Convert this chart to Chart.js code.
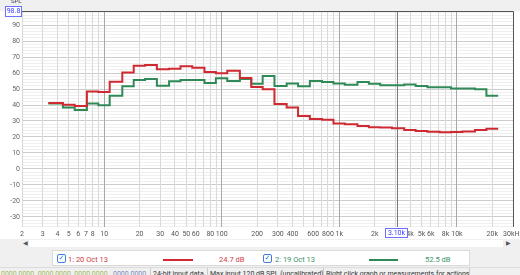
<!DOCTYPE html>
<html><head><meta charset="utf-8">
<script src="https://cdn.jsdelivr.net/npm/chart.js@4.4.1/dist/chart.umd.min.js"></script>
<style>
html,body{margin:0;padding:0;width:520px;height:275px;overflow:hidden;background:#fff;font-family:Roboto,"Noto Sans",sans-serif;}
#wrap{position:relative;width:520px;height:275px;overflow:hidden;}
canvas{position:absolute;left:0;top:0;}
.a{position:absolute;white-space:nowrap;}
.cb{position:absolute;width:7px;height:7px;border:1px solid #3d7fe0;border-radius:2px;background:#fff;font:bold 7px "DejaVu Sans",sans-serif;color:#2a6fd6;line-height:7px;text-align:center;}
.t{font-size:7px;line-height:8px;}
.s{font-size:7.5px;line-height:9px;}
.st{font-size:7px;line-height:9px;}
</style></head><body>
<div id="wrap">
<canvas id="c" width="520" height="275"></canvas>
<div class="a" style="left:0;top:0;width:520px;height:11px;background:#f0f0f0;"></div>
<div class="a t" style="left:11px;top:-3px;color:#444;font-size:6px;">SPL</div>
<div class="a t" style="left:5px;top:6px;width:15px;height:9px;border:1px solid #6f6fff;background:#fff;color:#3a3aff;text-align:center;line-height:9px;">98.8</div>
<div class="a" style="left:0;top:239px;width:520px;height:36px;background:#f0f0f0;"></div>
<div class="a" style="left:29px;top:240px;width:474px;height:7px;background:#fff;"></div>
<div class="a t" style="left:23px;top:239px;color:#555;font-size:6px;">&#9664;</div>
<div class="a t" style="left:506px;top:239px;color:#555;font-size:6px;">&#9654;</div>
<div class="a" style="left:52px;top:250px;width:416px;height:14px;background:#fff;border:1px solid #dadada;"></div>
<div class="cb" style="left:57px;top:254px;">&#10003;</div>
<div class="a s" style="left:68px;top:255px;color:#d23a48;">1: 20 Oct 13</div>
<div class="a" style="left:163px;top:259px;width:30px;height:2px;background:#cf2a32;"></div>
<div class="a s" style="left:219px;top:255px;color:#d23a48;">24.7 dB</div>
<div class="cb" style="left:263px;top:254px;">&#10003;</div>
<div class="a s" style="left:275px;top:255px;color:#3a9466;">2: 19 Oct 13</div>
<div class="a" style="left:369px;top:259px;width:29px;height:2px;background:#2f8a57;"></div>
<div class="a s" style="left:425px;top:255px;color:#3a9466;">52.5 dB</div>
<div class="a" style="left:0;top:267px;width:520px;height:1px;background:#dcdcdc;"></div>
<div class="a st" style="left:1px;top:270px;color:#9bbb55;">0000 0000&nbsp; 0000 0000&nbsp; 0000 0000</div>
<div class="a st" style="left:113px;top:270px;color:#7a88b8;">0000 0000</div>
<div class="a" style="left:150px;top:268px;width:1px;height:7px;background:#ccc;"></div>
<div class="a st" style="left:153px;top:270px;color:#333;">24-bit input data</div>
<div class="a" style="left:207px;top:268px;width:1px;height:7px;background:#ccc;"></div>
<div class="a st" style="left:210px;top:270px;color:#333;">Max input 120 dB SPL (uncalibrated)</div>
<div class="a" style="left:323px;top:268px;width:1px;height:7px;background:#ccc;"></div>
<div class="a st" style="left:326px;top:270px;color:#333;">Right click graph or measurements for actions</div>
<div class="a" style="left:469px;top:268px;width:1px;height:7px;background:#ccc;"></div>
</div>
<script>
// 1/3-octave band centres (Hz)
const bandCenters = [4,5,6.3,8,10,12.5,16,20,25,31.5,40,50,63,80,100,125,160,200,250,315,400,500,630,800,1000,1250,1600,2000,2500,3150,4000,5000,6300,8000,10000,12500,16000,20000];
const startHz = 3.35;
// 1: 20 Oct 13 (dB SPL)
const red = [41.2,40.2,39.4,48.5,48.1,54.6,60.4,64.6,65.0,62.3,62.7,64.2,63.3,60.6,59.8,61.4,56.9,51.2,49.8,40.6,38.5,33.1,31.2,30.8,28.5,27.9,26.9,26.1,25.9,25.4,24.4,23.8,23.3,22.9,23.1,23.5,24.4,25.2];
// 2: 19 Oct 13 (dB SPL)
const green = [41.0,38.5,36.9,41.0,39.8,45.8,51.7,55.6,56.3,52.1,54.8,55.6,55.6,53.8,56.7,55.0,56.3,53.3,58.1,51.9,53.5,51.7,55.0,54.4,53.5,52.7,54.4,53.3,52.3,52.3,52.9,51.9,51.1,51.1,50.4,50.4,49.8,45.8];
const xTickValues = [2,3,4,5,6,7,8,10,20,30,40,50,60,80,100,200,300,400,600,800,1000,2000,4000,5000,6000,8000,10000,20000,30000];
const xTickLabels = ['2','3','4','5','6','7','8','10','20','30','40','50','60','80','100','200','300','400','600','800','1k','2k','4k','5k','6k','8k','10k','20k','30kHz'];
const yTickValues = [90,80,70,60,50,40,30,20,10,0,-10,-20,-30];
const cursorHz = 3100, cursorLabel = '3.10k';

const RED = '#cf2a32', GREEN = '#2f8a57';
function toSteps(vals){
  const pts = vals.map((v,i)=>({x: i===0 ? startHz : bandCenters[i]*Math.pow(10,-0.05), y: v}));
  pts.push({x: bandCenters[bandCenters.length-1]*Math.pow(10,0.05), y: vals[vals.length-1]});
  return pts;
}
const xGrid = [];
for (let e=0;e<=4;e++) for (let m=1;m<=9;m++){ const v=m*Math.pow(10,e); if(v>=2&&v<=30000) xGrid.push(v); }
const yGrid = [];
for (let v=-36; v<=98; v+=2) yGrid.push(v);
const labelMap = {}; xTickValues.forEach((v,i)=>labelMap[v]=xTickLabels[i]);
const isDecade = v => [10,100,1000,10000].includes(v);
const FONT = {family:'Roboto, "Noto Sans", sans-serif', size:7};

const deco = {
  id:'deco',
  beforeDraw(c){ const g=c.ctx; g.save(); g.fillStyle='#fff'; g.fillRect(0,0,c.width,c.height); g.restore(); },
  beforeDatasetsDraw(c){
    const g=c.ctx, a=c.chartArea, xs=c.scales.x;
    const x = Math.round(xs.getPixelForValue(cursorHz))+0.5;
    g.save(); g.strokeStyle='#7a7a7a'; g.lineWidth=1;
    g.beginPath(); g.moveTo(x,a.top); g.lineTo(x,a.bottom); g.stroke(); g.restore();
  },
  afterDraw(c){
    const g=c.ctx, a=c.chartArea, xs=c.scales.x;
    g.save(); g.strokeStyle='#555'; g.lineWidth=1;
    g.beginPath(); g.moveTo(21,a.top+0.5); g.lineTo(a.right+0.5,a.top+0.5); g.lineTo(a.right+0.5,a.bottom); g.stroke();
    const x = Math.round(xs.getPixelForValue(cursorHz));
    g.font = '7px Roboto, "Noto Sans", sans-serif';
    const w = Math.ceil(g.measureText(cursorLabel).width)+4;
    const bx = x - Math.round(w/2)-1;
    g.fillStyle='#fff'; g.fillRect(bx,229,w,8);
    g.strokeStyle='#6f6fff'; g.strokeRect(bx+0.5,228.5,w,9);
    g.fillStyle='#3a3aff'; g.textAlign='center'; g.textBaseline='middle';
    g.fillText(cursorLabel, bx+w/2+0.5, 233.5);
    g.restore();
  }
};

new Chart(document.getElementById('c'), {
  type:'line',
  data:{ datasets:[
    {label:'1: 20 Oct 13', data:toSteps(red), borderColor:RED, borderWidth:2, stepped:'before', pointRadius:0, fill:false},
    {label:'2: 19 Oct 13', data:toSteps(green), borderColor:GREEN, borderWidth:2, stepped:'before', pointRadius:0, fill:false}
  ]},
  options:{
    responsive:false, animation:false, devicePixelRatio:1,
    layout:{padding:{left:0,top:11,right:7,bottom:36}},
    plugins:{legend:{display:false}, tooltip:{enabled:false}},
    scales:{
      x:{ type:'logarithmic', min:2, max:30000,
        afterBuildTicks:s=>{ s.ticks = xGrid.map(v=>({value:v})); },
        afterFit:s=>{ s.height=12; s.paddingLeft=0; s.paddingRight=0; },
        grid:{ z:-1, drawTicks:false, color:ctx=> isDecade(ctx.tick && ctx.tick.value) ? '#a8a8a8' : '#dadada' },
        border:{display:false},
        ticks:{ autoSkip:false, maxRotation:0, minRotation:0, padding:3, font:FONT, color:'#555',
          callback:v=> labelMap[v] !== undefined ? labelMap[v] : '' }
      },
      y:{ min:-36.3, max:98.8,
        afterBuildTicks:s=>{ s.ticks = yGrid.map(v=>({value:v})); },
        afterFit:s=>{ s.width=22; },
        grid:{ z:-2, drawTicks:false, color:ctx=> (ctx.tick && ctx.tick.value % 10 === 0) ? '#cdcdcd' : '#efefef' },
        border:{display:false},
        ticks:{ autoSkip:false, padding:2, font:FONT, color:'#666',
          callback:v=> yTickValues.includes(v) ? String(v) : '' }
      }
    }
  },
  plugins:[deco]
});
</script>
</body></html>
